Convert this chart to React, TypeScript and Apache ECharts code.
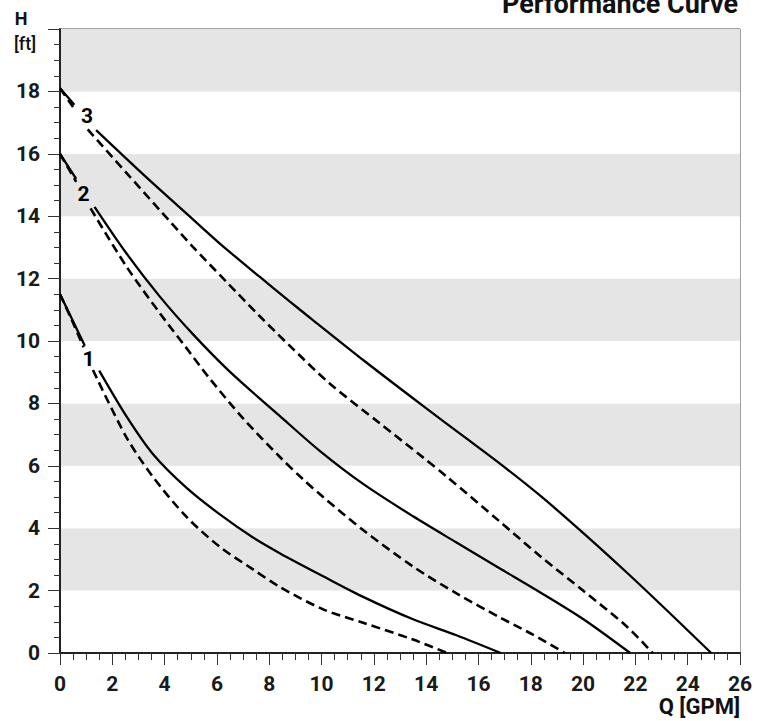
import React, { useEffect, useRef } from "react";
import * as echarts from "echarts";

const FONT = 'Roboto, "Liberation Sans", sans-serif';

const xTicks = [0, 2, 4, 6, 8, 10, 12, 14, 16, 18, 20, 22, 24, 26];
const yTicks = [0, 2, 4, 6, 8, 10, 12, 14, 16, 18, 20];

// Q [GPM], H [ft]; null marks the gap left for the curve number
const curve1Solid: ([number, number] | null)[] = [
  [0, 11.5], [0.5, 10.63], [0.95, 9.85], null,
  [1.5, 9.05], [2.53, 7.6], [3.55, 6.38], [4.83, 5.3], [6.1, 4.45], [7.38, 3.7],
  [8.4, 3.2], [10.06, 2.46], [11.59, 1.8], [13.5, 1.08], [15.16, 0.57], [16.85, 0],
];
const curve1Dashed: ([number, number] | null)[] = [
  [0, 11.5], [0.5, 10.58], [0.9, 9.8], null,
  [1.26, 9.07], [2.53, 6.93], [3.55, 5.65], [4.83, 4.37], [6.1, 3.41], [7.38, 2.68],
  [8.4, 2.12], [10.06, 1.4], [11.59, 0.97], [13.5, 0.43], [14.8, 0],
];
const curve2Solid: ([number, number] | null)[] = [
  [0, 16.0], [0.62, 15.2], null,
  [1.32, 14.3], [2.53, 12.82], [3.81, 11.43], [5.08, 10.22], [6.49, 9.02], [8.4, 7.6],
  [9.93, 6.48], [11.59, 5.42], [13.5, 4.38], [15.16, 3.54], [16.82, 2.71], [18.35, 1.95],
  [20.0, 1.09], [21.8, 0],
];
const curve2Dashed: ([number, number] | null)[] = [
  [0, 16.0], [0.62, 15.1], null,
  [1.17, 14.25], [2.53, 12.4], [3.81, 10.9], [4.83, 9.78], [5.72, 8.8], [7.0, 7.52],
  [8.4, 6.29], [9.29, 5.57], [10.06, 5.0], [11.59, 3.94], [13.5, 2.77], [15.16, 1.91],
  [16.82, 1.14], [18.1, 0.58], [19.3, 0],
];
const curve3Solid: ([number, number] | null)[] = [
  [0, 18.1], [0.55, 17.57], null,
  [1.38, 16.76], [3.17, 15.35], [4.83, 14.09], [6.1, 13.13], [7.63, 12.06], [8.78, 11.27],
  [9.67, 10.67], [11.59, 9.39], [13.88, 7.92], [15.55, 6.87], [16.82, 6.07], [18.35, 5.05],
  [20.0, 3.85], [21.67, 2.58], [23.2, 1.37], [24.9, 0],
];
const curve3Dashed: ([number, number] | null)[] = [
  [0, 18.1], [0.5, 17.5], null,
  [1.06, 16.78], [2.53, 15.4], [3.81, 14.2], [5.08, 13.02], [6.36, 11.9], [7.63, 10.8],
  [8.78, 9.85], [10.31, 8.64], [12.23, 7.36], [13.88, 6.27], [14.78, 5.66], [16.82, 4.21],
  [18.35, 3.11], [20.0, 2.0], [21.67, 0.85], [22.66, 0],
];
const curveLabels: { name: string; value: [number, number] }[] = [
  { name: "1", value: [1.09, 9.42] },
  { name: "2", value: [0.9, 14.71] },
  { name: "3", value: [1.03, 17.21] },
];

const titleText = "Performance Curve";
const yName = ["H", "[ft]"];
const xName = "Q [GPM]";

export default function App() {
  const ref = useRef<HTMLDivElement>(null);
  useEffect(() => {
    if (!ref.current) return;
    const chart = echarts.init(ref.current, undefined, { renderer: "svg" });
    const toData = (arr: ([number, number] | null)[]) => arr.map((p) => (p === null ? ["-", "-"] : p));
    const solid = { type: "solid", width: 2.3, color: "#000" };
    const dashed = { type: [9, 5], width: 2.6, color: "#000" };
    const mk = (data: any, style: any) => ({
      type: "line",
      data: toData(data),
      showSymbol: false,
      symbol: "none",
      smooth: 0.3,
      connectNulls: false,
      lineStyle: style,
      silent: true,
      z: 3,
    });
    const labelStyle = {
      fontFamily: FONT,
      fontSize: 21,
      fontWeight: "bold",
      color: "#1a1a1a",
    };
    chart.setOption({
      animation: false,
      backgroundColor: "#fff",
      grid: {
        left: 60,
        right: 17,
        top: 29,
        bottom: 68,
        show: true,
        borderColor: "#444",
        borderWidth: 1,
        backgroundColor: "transparent",
      },
      xAxis: {
        type: "value",
        min: xTicks[0],
        max: xTicks[xTicks.length - 1],
        interval: 2,
        axisLine: { show: true, onZero: false, lineStyle: { color: "#222", width: 2 } },
        axisTick: { show: true, length: 12, lineStyle: { color: "#333", width: 1 } },
        minorTick: { show: true, splitNumber: 4, length: 7, lineStyle: { color: "#333", width: 1 } },
        splitLine: { show: false },
        axisLabel: { margin: 20, ...labelStyle },
      },
      yAxis: {
        type: "value",
        min: yTicks[0],
        max: yTicks[yTicks.length - 1],
        interval: 2,
        axisLine: { show: true, onZero: false, lineStyle: { color: "#222", width: 2 } },
        axisTick: { show: true, length: 12, lineStyle: { color: "#333", width: 1 } },
        minorTick: { show: true, splitNumber: 4, length: 6, lineStyle: { color: "#333", width: 1 } },
        splitLine: { show: false },
        splitArea: { show: true, areaStyle: { color: ["#ffffff", "#e5e5e5"] } },
        axisLabel: {
          margin: 20,
          ...labelStyle,
          formatter: (v: number) => (v === 20 ? "" : String(v)),
        },
      },
      series: [
        mk(curve1Solid, solid),
        mk(curve1Dashed, dashed),
        mk(curve2Solid, solid),
        mk(curve2Dashed, dashed),
        mk(curve3Solid, solid),
        mk(curve3Dashed, dashed),
        {
          type: "scatter",
          data: curveLabels,
          symbol: "circle",
          symbolSize: 0,
          itemStyle: { color: "#000" },
          silent: true,
          z: 4,
          label: {
            show: true,
            position: "inside",
            formatter: (p: any) => p.name,
            fontFamily: FONT,
            fontSize: 21,
            fontWeight: "bold",
            color: "#000",
            opacity: 1,
            textBorderWidth: 0,
          },
        },
      ],
      graphic: [
        {
          type: "text",
          x: 738,
          y: 4,
          style: {
            text: titleText,
            textAlign: "right",
            textVerticalAlign: "middle",
            fontFamily: FONT,
            fontSize: 27,
            fontWeight: "bold",
            fill: "#111",
          },
        },
        {
          type: "text",
          x: 21,
          y: 18,
          style: {
            text: yName[0],
            textAlign: "center",
            textVerticalAlign: "middle",
            fontFamily: FONT,
            fontSize: 18,
            fontWeight: "bold",
            fill: "#111",
          },
        },
        {
          type: "text",
          x: 25,
          y: 43,
          style: {
            text: yName[1],
            textAlign: "center",
            textVerticalAlign: "middle",
            fontFamily: FONT,
            fontSize: 18,
            fontWeight: 500,
            fill: "#111",
          },
        },
        {
          type: "text",
          x: 740,
          y: 706,
          style: {
            text: xName,
            textAlign: "right",
            textVerticalAlign: "middle",
            fontFamily: FONT,
            fontSize: 22,
            fontWeight: "bold",
            fill: "#111",
          },
        },
      ],
    });
    return () => chart.dispose();
  }, []);
  return (
    <div
      ref={ref}
      style={{ position: "fixed", left: 0, top: 0, width: 757, height: 721, background: "#fff" }}
    />
  );
}
